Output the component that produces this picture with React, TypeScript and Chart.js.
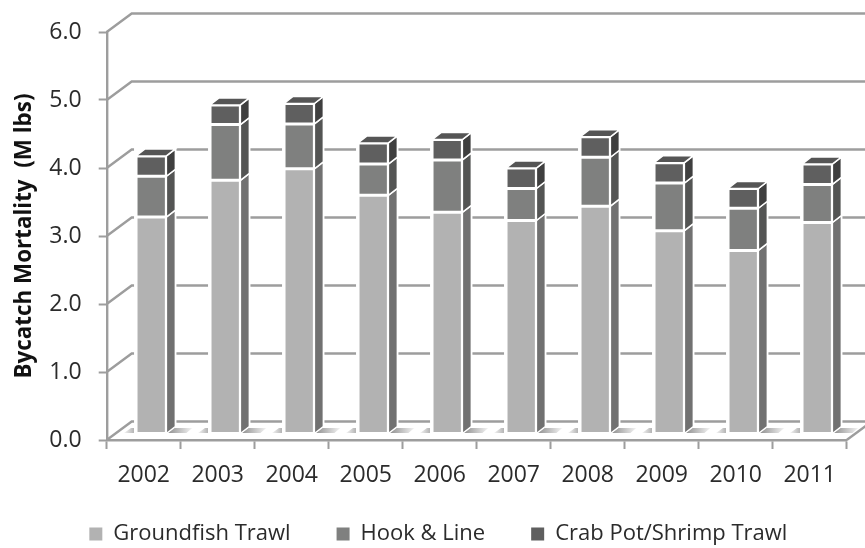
import React, { useEffect, useRef } from "react";
import { Chart, registerables } from "chart.js";

Chart.register(...registerables);

const years = ["2002", "2003", "2004", "2005", "2006", "2007", "2008", "2009", "2010", "2011"];
const groundfishTrawl = [3.19, 3.73, 3.9, 3.51, 3.26, 3.14, 3.35, 2.99, 2.7, 3.11];
const hookAndLine = [0.6, 0.82, 0.66, 0.46, 0.77, 0.47, 0.72, 0.7, 0.62, 0.56];
const crabPotShrimp = [0.3, 0.29, 0.3, 0.31, 0.3, 0.3, 0.3, 0.3, 0.29, 0.3];
const yTicks = [0, 1, 2, 3, 4, 5, 6];

const frontColors = ["#b2b2b2", "#7f807f", "#5f5f5f"];
const sideColors = ["#717171", "#545554", "#3f3f3f"];
const topColor = "#555555";
const lineColor = "#9d9d9d";
const textColor = "#2b2b2b";
const FONT = "'Open Sans', sans-serif";

const WALL_DX = 25;
const WALL_DY = -18.5;
const BAR_DX = 7.5;
const BAR_DY = -6;
const SIDE_DX = 9;
const SIDE_DY = -7;

const threeD = {
  id: "threeD",
  afterLayout(chart: any) {
    chart.legend.left += 15;
    chart.legend.right += 15;
    chart.legend.top += 7;
    chart.legend.bottom += 7;
    chart.scales.x.bottom += 45;
  },
  beforeDatasetsDraw(chart: any) {
    const { ctx, scales, chartArea } = chart;
    const y = scales.y;
    const left = chartArea.left;
    const right = chartArea.right;
    ctx.save();
    ctx.strokeStyle = lineColor;
    ctx.lineWidth = 2.4;
    yTicks.forEach((v) => {
      const py = y.getPixelForValue(v);
      ctx.beginPath();
      ctx.moveTo(left, py);
      ctx.lineTo(left + WALL_DX, py + WALL_DY);
      ctx.lineTo(900, py + WALL_DY);
      ctx.stroke();
    });
    const py0 = y.getPixelForValue(0);
    ctx.beginPath();
    ctx.moveTo(right, py0);
    ctx.lineTo(right + WALL_DX, py0 + WALL_DY);
    ctx.stroke();

    const meta = chart.getDatasetMeta(0);
    const topMeta = chart.getDatasetMeta(chart.data.datasets.length - 1);
    meta.data.forEach((bar: any, i: number) => {
      const xr = bar.x + bar.width / 2 + BAR_DX;
      const xl = bar.x - bar.width / 2 + BAR_DX;
      const yb = py0 + BAR_DY;
      const yt = topMeta.data[i].y + BAR_DY + SIDE_DY;
      // white halo round each bar, which breaks the wall lines
      ctx.fillStyle = "#ffffff";
      ctx.fillRect(xl - 2, yt - 2, xr - xl + SIDE_DX + 3, yb - yt + 2);
      // soft floor shadows beside each bar
      const g = ctx.createLinearGradient(xr + 1, 0, xr + 26, 0);
      g.addColorStop(0, "#8e8e8e");
      g.addColorStop(1, "#f4f4f4");
      ctx.fillStyle = g;
      ctx.beginPath();
      ctx.moveTo(xr + 1, yb - 1);
      ctx.lineTo(xr + 8, yb - 6);
      ctx.lineTo(xr + 26, yb - 6);
      ctx.lineTo(xr + 20, yb - 1);
      ctx.closePath();
      ctx.fill();
      const g2 = ctx.createLinearGradient(xl - 12, 0, xl - 2, 0);
      g2.addColorStop(0, "#f4f4f4");
      g2.addColorStop(1, "#b4b4b4");
      ctx.fillStyle = g2;
      ctx.beginPath();
      ctx.moveTo(xl - 12, yb - 1);
      ctx.lineTo(xl - 5, yb - 6);
      ctx.lineTo(xl - 2, yb - 6);
      ctx.lineTo(xl - 2, yb - 1);
      ctx.closePath();
      ctx.fill();
    });
    ctx.restore();

    ctx.save();
    ctx.translate(BAR_DX, BAR_DY);
  },
  afterDatasetsDraw(chart: any) {
    const { ctx } = chart;
    chart.data.datasets.forEach((_: any, di: number) => {
      const meta = chart.getDatasetMeta(di);
      meta.data.forEach((bar: any) => {
        const xr = bar.x + bar.width / 2;
        const xl = bar.x - bar.width / 2;
        const top = bar.y;
        const base = bar.base;
        ctx.fillStyle = sideColors[di];
        ctx.strokeStyle = "#ffffff";
        ctx.lineWidth = 1.5;
        ctx.beginPath();
        ctx.moveTo(xr, base);
        ctx.lineTo(xr, top);
        ctx.lineTo(xr + SIDE_DX, top + SIDE_DY);
        ctx.lineTo(xr + SIDE_DX, base + SIDE_DY);
        ctx.closePath();
        ctx.fill();
        ctx.stroke();
        if (di === chart.data.datasets.length - 1) {
          ctx.fillStyle = topColor;
          ctx.beginPath();
          ctx.moveTo(xl, top);
          ctx.lineTo(xl + SIDE_DX, top + SIDE_DY);
          ctx.lineTo(xr + SIDE_DX, top + SIDE_DY);
          ctx.lineTo(xr, top);
          ctx.closePath();
          ctx.fill();
          ctx.stroke();
        }
      });
    });
    ctx.restore();
  },
};

export default function App() {
  const ref = useRef<HTMLCanvasElement>(null);
  useEffect(() => {
    const seriesNames = ["Groundfish Trawl", "Hook & Line", "Crab Pot/Shrimp Trawl"];
    const seriesValues = [groundfishTrawl, hookAndLine, crabPotShrimp];
    const chart = new Chart(ref.current!, {
      type: "bar",
      data: {
        labels: years,
        datasets: seriesNames.map((label, i) => ({
          label,
          data: seriesValues[i],
          backgroundColor: frontColors[i],
          borderColor: "#ffffff",
          borderWidth: 1.5,
          borderSkipped: false,
          barPercentage: 0.41,
          categoryPercentage: 1,
          clip: false,
        })),
      },
      options: {
        responsive: false,
        animation: false,
        layout: { padding: { top: 32, right: 18.3, bottom: 0, left: 0 } },
        plugins: {
          tooltip: { enabled: false },
          legend: {
            position: "bottom",
            labels: {
              boxWidth: 13,
              boxHeight: 13,
              padding: 46,
              color: textColor,
              font: { family: FONT, size: 22 },
              generateLabels: (c: any) =>
                Chart.defaults.plugins.legend.labels.generateLabels(c).map((l: any) => ({ ...l, lineWidth: 0 })),
            },
          },
        },
        scales: {
          x: {
            stacked: true,
            afterFit: (s: any) => {
              s.height = 30;
            },
            grid: { drawOnChartArea: false, drawTicks: true, tickLength: 9, tickColor: lineColor, tickWidth: 2, offset: true },
            border: { color: lineColor, width: 2.4 },
            ticks: { color: textColor, padding: 13, maxRotation: 0, font: { family: FONT, size: 23 } },
          },
          y: {
            stacked: true,
            min: 0,
            max: 6,
            afterFit: (s: any) => {
              s.width = 106.7;
            },
            grid: { drawOnChartArea: false, drawTicks: true, tickLength: 8, tickColor: lineColor, tickWidth: 2 },
            border: { color: lineColor, width: 2.4 },
            title: {
              display: true,
              text: "Bycatch Mortality  (M lbs)",
              color: "#111111",
              padding: { top: 11, bottom: 0 },
              font: { family: FONT, size: 22.4, weight: "bold" },
            },
            ticks: {
              stepSize: 1,
              color: textColor,
              padding: 17,
              callback: (v: any) => Number(v).toFixed(1),
              font: { family: FONT, size: 23 },
            },
          },
        },
      },
      plugins: [threeD],
    } as any);
    return () => chart.destroy();
  }, []);
  return (
    <div style={{ position: "fixed", left: 0, top: 0, width: 865, height: 548, background: "#fff" }}>
      <canvas ref={ref} width={865} height={548} style={{ display: "block" }} />
    </div>
  );
}
